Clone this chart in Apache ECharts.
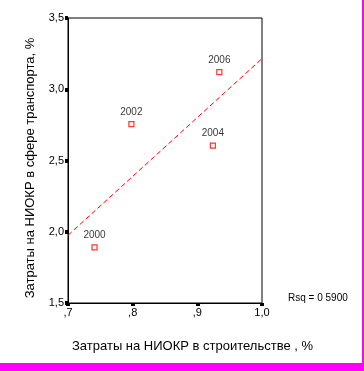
<!DOCTYPE html>
<html>
<head>
<meta charset="utf-8">
<script src="https://cdn.jsdelivr.net/npm/echarts@6/dist/echarts.min.js"></script>
<style>html,body{margin:0;padding:0;background:#fff;}#c{width:364px;height:371px;}</style>
</head>
<body>
<div id="c"></div>
<script>
var years = ['2000', '2002', '2004', '2006'];
var xValues = [0.741, 0.798, 0.924, 0.934];
var yValues = [1.89, 2.755, 2.605, 3.12];
var fitX = [0.7, 1.0];
var fitY = [1.975, 3.215];
var xTickValues = [0.7, 0.8, 0.9, 1.0];
var xTickLabels = [',7', ',8', ',9', '1,0'];
var yTickValues = [1.5, 2.0, 2.5, 3.0, 3.5];
var yTickLabels = ['1,5', '2,0', '2,5', '3,0', '3,5'];
var xTitle = 'Затраты на НИОКР в строительстве , %';
var yTitle = 'Затраты на НИОКР в сфере транспорта, %';
var rsqText = 'Rsq = 0 5900';

function lookup(vals, labels, v) {
  for (var i = 0; i < vals.length; i++) if (Math.abs(vals[i] - v) < 1e-6) return labels[i];
  return '';
}

var font = 'Liberation Sans, Arial, sans-serif';
var chart = echarts.init(document.getElementById('c'), null, {renderer: 'canvas'});
var pts = xValues.map(function (x, i) { return {value: [x, yValues[i]], name: years[i]}; });
var fit = fitX.map(function (x, i) { return [x, fitY[i]]; });

chart.setOption({
  animation: false,
  backgroundColor: '#fff',
  grid: {left: 68, top: 18, width: 194, height: 285, show: true, borderColor: '#000', borderWidth: 1, backgroundColor: 'transparent'},
  xAxis: {
    type: 'value', min: 0.7, max: 1.0, interval: 0.1,
    axisLine: {show: true, lineStyle: {color: '#000', width: 1}},
    axisTick: {show: true, length: 3, lineStyle: {color: '#000', width: 4}},
    splitLine: {show: false},
    axisLabel: {color: '#000', fontFamily: font, fontSize: 11, margin: 4,
      formatter: function (v) { return lookup(xTickValues, xTickLabels, v); }}
  },
  yAxis: {
    type: 'value', min: 1.5, max: 3.5, interval: 0.5,
    axisLine: {show: true, lineStyle: {color: '#000', width: 1}},
    axisTick: {show: true, length: 3, lineStyle: {color: '#000', width: 4}},
    splitLine: {show: false},
    axisLabel: {color: '#000', fontFamily: font, fontSize: 11, margin: 4,
      formatter: function (v) { return lookup(yTickValues, yTickLabels, v); }}
  },
  series: [
    {
      type: 'line', data: fit, showSymbol: false, symbol: 'none',
      lineStyle: {color: '#ff0000', width: 1, type: [5, 3]},
      silent: true, z: 2
    },
    {
      type: 'scatter', data: pts, symbol: 'rect', symbolSize: 5,
      itemStyle: {color: '#fff', borderColor: '#ff0000', borderWidth: 1.2},
      label: {show: true, position: 'top', distance: 4, color: '#000', fontFamily: font, fontSize: 10,
        formatter: function (p) { return p.name; }},
      z: 3
    }
  ],
  graphic: [
    {type: 'text', left: 72, top: 340, style: {text: xTitle, fill: '#000', font: '13px ' + font}},
    {type: 'text', x: 30, y: 168, rotation: Math.PI / 2,
      style: {text: yTitle, fill: '#000', font: '13px ' + font, align: 'center', verticalAlign: 'middle'}},
    {type: 'text', left: 288, top: 293, style: {text: rsqText, fill: '#000', font: '10px ' + font}},
    {type: 'rect', shape: {x: 0, y: 363, width: 364, height: 8}, style: {fill: '#ff00ff'}},
    {type: 'rect', shape: {x: 362, y: 0, width: 2, height: 371}, style: {fill: '#ff00ff'}}
  ]
});
</script>
</body>
</html>
